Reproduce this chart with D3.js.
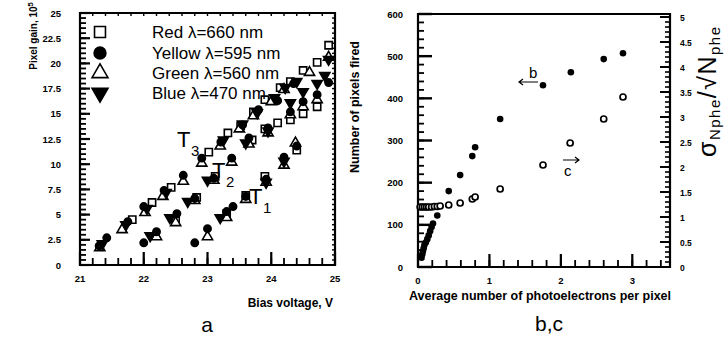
<!DOCTYPE html>
<html><head><meta charset="utf-8">
<script src="https://cdn.jsdelivr.net/npm/d3@7"></script>
<style>
html,body{margin:0;padding:0;background:#fff;}
text{font-family:"Liberation Sans",Arial,Helvetica,sans-serif;fill:#000;}
</style></head>
<body><svg id="c" width="724" height="340"></svg>
<script>
// ---------- Panel a data (bias voltage V, pixel gain 10^5) ----------
const redSquares = [
 [21.82,4.5],[22.13,6.2],[22.43,7.7],[23.02,11.2],[23.32,13.1],[23.52,13.8],[23.72,15.2],[23.9,16.4],[24.14,17.6],[24.3,18.2],[24.5,19.3],[24.72,20.1],[24.9,21.8],
 [22.5,4.4],[22.83,6.7],[23.12,8.8],[23.7,12.4],[23.9,13.5],[24.1,14.1],[24.3,14.4],[24.5,15.0],[24.72,15.7],
 [23.3,5.1],[23.6,6.9],[23.9,8.8],[24.4,11.4]
];
const yellowCircles = [
 [21.3,1.9],[21.42,2.7],[21.75,4.3],[22.0,5.8],[22.32,7.4],[22.62,8.9],[22.91,10.6],[23.21,12.2],[23.55,13.9],[23.8,15.4],[24.1,16.3],[24.35,18.0],[24.9,18.1],
 [22.0,2.2],[22.2,3.3],[22.52,5.1],[22.8,6.6],[23.1,8.6],[23.38,10.6],[23.65,12.6],[23.95,13.6],[24.3,15.2],[24.5,16.2],[24.72,16.9],
 [22.8,2.2],[23.0,3.6],[23.3,5.3],[23.4,5.8],[23.6,6.8],[23.92,8.5],[24.2,10.7],[24.4,11.8]
];
const greenTriangles = [
 [21.31,1.7],[21.66,3.5],[22.02,5.2],[22.3,6.8],[22.62,8.3],[22.91,10.1],[23.2,11.8],[23.5,13.5],[23.72,14.8],[24.0,16.2],[24.2,17.4],[24.6,19.1],[24.9,20.6],
 [22.2,2.8],[22.5,4.2],[22.8,6.4],[23.1,8.4],[23.38,10.2],[23.65,12.0],[23.95,13.1],[24.3,14.9],[24.5,15.7],[24.72,16.4],
 [23.0,2.8],[23.3,4.7],[23.6,6.5],[23.92,8.2],[24.2,9.9],[24.38,12.1]
];
const blueInvTriangles = [
 [21.35,2.1],[21.72,4.0],[22.05,5.6],[22.35,7.2],[23.25,12.4],[23.55,14.0],[23.78,15.1],[24.05,16.6],[24.22,17.6],[24.4,18.2],[24.84,18.8],[24.9,20.4],
 [22.1,2.9],[22.41,4.7],[22.69,6.3],[23.0,8.4],[23.6,12.1],[23.95,13.3],[24.3,16.1],[24.5,17.2],[24.72,18.0],
 [23.2,4.7],[23.92,8.2],[24.2,10.3]
];
const legendLabels = ["Red \u03bb=660 nm","Yellow \u03bb=595 nm","Green \u03bb=560 nm","Blue \u03bb=470 nm"];
const aXTicks = [21,22,23,24,25];
const aYTicks = [0,2.5,5,7.5,10,12.5,15,17.5,20,22.5,25];

// ---------- Panel b,c data ----------
const bX = [0.05,0.06,0.07,0.08,0.09,0.11,0.13,0.15,0.17,0.19,0.21,0.27,0.43,0.59,0.76,0.80,1.15,1.75,2.14,2.6,2.87];
const bPixels = [22,30,38,45,52,58,66,75,85,95,103,122,180,218,263,284,351,431,462,493,507];
const cX = [0.03,0.06,0.09,0.12,0.15,0.19,0.23,0.27,0.31,0.43,0.59,0.76,0.80,1.15,1.75,2.13,2.6,2.87];
const cRatio = [1.2,1.2,1.2,1.2,1.2,1.2,1.21,1.21,1.22,1.24,1.28,1.36,1.4,1.56,2.04,2.48,2.96,3.4];
const bcXTicks = [0,1,2,3];
const bYTicks = [0,100,200,300,400,500,600];
const cYTicks = [0,0.5,1,1.5,2,2.5,3,3.5,4,4.5,5];

const svg = d3.select("#c");
svg.append("rect").attr("width",724).attr("height",340).attr("fill","#fff");

// inward ticks drawn as small filled rectangles
function ticksIn(parent, scale, vals, len, orient, pos, w){
  const horiz = (orient==="bottom"||orient==="top");
  parent.append("g").selectAll("rect").data(vals).join("rect")
    .attr("x", d=> horiz ? scale(d)-w/2 : (orient==="left" ? pos : pos-len))
    .attr("y", d=> horiz ? (orient==="bottom" ? pos-len : pos) : scale(d)-w/2)
    .attr("width", horiz ? w : len)
    .attr("height", horiz ? len : w)
    .attr("fill","#000");
}
const rng=(a,b,s)=>d3.range(a,b+s/2,s).map(v=>+v.toFixed(4));
const sym = (type,size)=>d3.symbol().type(type).size(size)();

// ---------- Panel a ----------
const xa = d3.scaleLinear().domain([21,25]).range([80,335]);
const ya = d3.scaleLinear().domain([0,25]).range([265,13]);
const ga = svg.append("g");

ga.append("path").attr("d",`M80,13H335V265H80Z`).style("fill","none").style("stroke","#000").style("stroke-width","2.2px");
ticksIn(ga, ya, rng(0,25,0.5), 6, "left", 80, 1.8);
ticksIn(ga, ya, aYTicks, 10, "left", 80, 2.2);
ticksIn(ga, xa, rng(21,25,0.2), 7, "bottom", 265, 1.8);
ticksIn(ga, xa, aXTicks, 13, "bottom", 265, 2.2);
ticksIn(ga, ya, rng(0,25,0.5), 3, "right", 335, 1.4);
ticksIn(ga, xa, rng(21,25,0.2), 3, "top", 13, 1.4);

ga.append("g").selectAll("text").data(aYTicks).join("text").attr("x",61).attr("y",d=>ya(d)+3.5)
  .attr("text-anchor","end").attr("font-size",9.5).attr("font-weight","bold").text(d=>d);
ga.append("g").selectAll("text").data(aXTicks).join("text").attr("x",d=>xa(d)).attr("y",282)
  .attr("text-anchor","middle").attr("font-size",9.5).attr("font-weight","bold").text(d=>d);

const yt = ga.append("text").attr("transform","translate(37,36) rotate(-90)")
  .attr("text-anchor","middle").attr("font-size",10).attr("font-weight","bold");
yt.append("tspan").text("Pixel gain, 10");
yt.append("tspan").attr("font-size",7.5).attr("dy",-4).text("5");
ga.append("text").attr("x",333).attr("y",307).attr("text-anchor","end")
  .attr("font-size",12).attr("font-weight","bold").text("Bias voltage, V");
ga.append("text").attr("x",207).attr("y",332).attr("text-anchor","middle")
  .attr("font-size",21).text("a");

function drawSet(g, data, type, size, filled, rot){
  g.append("g").selectAll("path").data(data).join("path")
    .attr("d",sym(type,size))
    .attr("transform",d=>`translate(${xa(d[0])},${ya(d[1])})${rot?" rotate(180)":""}`)
    .attr("fill",filled?"#000":"#fff").attr("stroke","#000").attr("stroke-width",1.6);
}
drawSet(ga, redSquares, d3.symbolSquare, 52, false, false);
drawSet(ga, greenTriangles, d3.symbolTriangle, 45, false, false);
drawSet(ga, yellowCircles, d3.symbolCircle, 42, true, false);
drawSet(ga, blueInvTriangles, d3.symbolTriangle, 45, true, true);

// legend
const legTypes = [[d3.symbolSquare,false,false],[d3.symbolCircle,true,false],[d3.symbolTriangle,false,false],[d3.symbolTriangle,true,true]];
const legY = [32,53,73,93];
legendLabels.forEach((lab,i)=>{
  const t = legTypes[i];
  ga.append("path").attr("d",sym(t[0], i===0?120:110))
    .attr("transform",`translate(100,${legY[i]})${t[2]?" rotate(180)":""}`)
    .attr("fill",t[1]?"#000":"#fff").attr("stroke","#000").attr("stroke-width",1.6);
  ga.append("text").attr("x",152).attr("y",legY[i]+6).attr("font-size",17).text(lab);
});

// T labels
function tLabel(x,y,n){
  ga.append("text").attr("x",x).attr("y",y).attr("font-size",22).text("T");
  ga.append("text").attr("x",x+14).attr("y",y+9).attr("font-size",15).text(n);
}
tLabel(177,147,"3");
tLabel(212,178,"2");
tLabel(249,204,"1");

// ---------- Panel b,c ----------
const xb = d3.scaleLinear().domain([0,3.5]).range([418,668]);
const yb = d3.scaleLinear().domain([0,600]).range([267,14]);
const yc = d3.scaleLinear().domain([0,5]).range([267,17]);
const gb = svg.append("g");
gb.append("path").attr("d",`M418,14H670V267H418Z`).style("fill","none").style("stroke","#000").style("stroke-width","2.2px");
ticksIn(gb, yb, rng(0,600,20), 6, "left", 418, 1.8);
ticksIn(gb, yb, bYTicks, 14, "left", 418, 2.4);
ticksIn(gb, xb, rng(0,3.4,0.2), 7, "bottom", 267, 1.8);
ticksIn(gb, xb, bcXTicks, 13, "bottom", 267, 2.2);
ticksIn(gb, yc, rng(0,5,0.1), 5, "right", 670, 1.6);
ticksIn(gb, yc, cYTicks, 10, "right", 670, 2.0);

gb.append("g").selectAll("text").data(bYTicks).join("text").attr("x",403).attr("y",d=>yb(d)+3.5)
  .attr("text-anchor","end").attr("font-size",9.5).attr("font-weight","bold").text(d=>d);
gb.append("g").selectAll("text").data(cYTicks).join("text").attr("x",680).attr("y",d=>yc(d)+3.5)
  .attr("text-anchor","start").attr("font-size",8.5).attr("font-weight","bold").text(d=>d);
gb.append("g").selectAll("text").data(bcXTicks).join("text").attr("x",d=>xb(d)).attr("y",284)
  .attr("text-anchor","middle").attr("font-size",9.5).attr("font-weight","bold").text(d=>d);

gb.append("text").attr("transform","translate(359,107) rotate(-90)").attr("text-anchor","middle")
  .attr("font-size",12.5).attr("font-weight","bold").text("Number of pixels fired");
gb.append("text").attr("x",540).attr("y",300).attr("text-anchor","middle")
  .attr("font-size",12.5).attr("font-weight","bold").text("Average number of photoelectrons per pixel");
gb.append("text").attr("x",549).attr("y",331).attr("text-anchor","middle")
  .attr("font-size",21).text("b,c");

const rl = gb.append("text").attr("transform","translate(716,157) rotate(-90)").attr("text-anchor","start")
  .attr("letter-spacing",1.5);
rl.append("tspan").attr("font-size",25).text("\u03c3");
rl.append("tspan").attr("font-size",15).attr("dy",4).text("Nphe");
rl.append("tspan").attr("font-size",25).attr("dy",-4).text("/\u221aN");
rl.append("tspan").attr("font-size",15).attr("dy",4).text("phe");

gb.append("g").selectAll("circle").data(bX).join("circle").attr("cx",d=>xb(d)).attr("cy",(d,i)=>yb(bPixels[i]))
  .attr("r",3.3).attr("fill","#000");
gb.append("g").selectAll("circle").data(cX).join("circle").attr("cx",d=>xb(d)).attr("cy",(d,i)=>yc(cRatio[i]))
  .attr("r",3).attr("fill","#fff").attr("stroke","#000").attr("stroke-width",1.7);

// arrows
gb.append("text").attr("x",529).attr("y",78).attr("font-size",15).text("b");
gb.append("path").attr("d","M538,82H520M523,79L519,82L523,85").style("fill","none").style("stroke","#000").style("stroke-width","1.2px");
gb.append("text").attr("x",564).attr("y",176).attr("font-size",15).text("c");
gb.append("path").attr("d","M563,160H579M575,157L579,160L575,163").style("fill","none").style("stroke","#000").style("stroke-width","1.2px");
</script></body></html>
